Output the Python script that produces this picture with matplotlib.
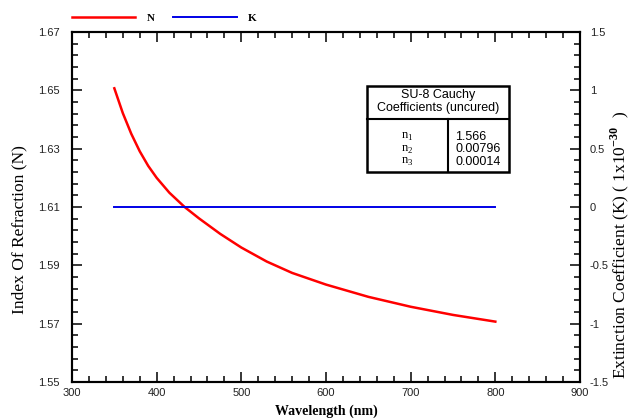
import numpy as np
import matplotlib as mpl
mpl.use('Agg')
mpl.rcParams.update({'font.family': 'Liberation Serif', 'font.size': 10,
                     'mathtext.fontset': 'custom',
                     'mathtext.rm': 'Liberation Serif',
                     'mathtext.bf': 'Liberation Serif:bold'})
from matplotlib import pyplot as plt
from matplotlib.lines import Line2D
from matplotlib.ticker import MultipleLocator

# values
wavelength = [350, 360, 370, 380, 390, 400, 415, 433, 450, 475, 500, 530,
              560, 600, 650, 700, 750, 800]
n_index = [1.6507, 1.6422, 1.6351, 1.6291, 1.6241, 1.6200, 1.6149, 1.6100,
           1.6061, 1.6008, 1.5961, 1.5913, 1.5874, 1.5834, 1.5792, 1.5758,
           1.5730, 1.5707]
k_wavelength = [350, 800]
k_value = [0.0, 0.0]

coef_names = ['n$_\\mathregular{1}$', 'n$_\\mathregular{2}$', 'n$_\\mathregular{3}$']
coef_values = ['1.566', '0.00796', '0.00014']

tick_font = {'family': 'Liberation Sans', 'size': 8}

fig = plt.figure(figsize=(6.34, 4.2), dpi=100)
ax = fig.add_axes([72/634, 1 - 382/420, 508/634, 350/420])
ax2 = ax.twinx()

lineN, = ax.plot(wavelength, n_index, color='#ff0000', lw=1.8)
lineK, = ax2.plot(k_wavelength, k_value, color='#0000e6', lw=1.4)

ax.set_xlim(300, 900)
ax.set_ylim(1.55, 1.67)
ax2.set_ylim(-1.5, 1.5)

ax.xaxis.set_major_locator(MultipleLocator(100))
ax.xaxis.set_minor_locator(MultipleLocator(20))
ax.yaxis.set_major_locator(MultipleLocator(0.02, offset=0.01))
ax.yaxis.set_minor_locator(MultipleLocator(0.004, offset=0.002))
ax2.yaxis.set_major_locator(MultipleLocator(0.5))
ax2.yaxis.set_minor_locator(MultipleLocator(0.1))
ax.yaxis.set_major_formatter(mpl.ticker.FormatStrFormatter('%.2f'))
ax2.yaxis.set_major_formatter(mpl.ticker.FuncFormatter(
    lambda v, p: '%g' % v if abs(v) > 1e-9 else '0'))

for a in (ax, ax2):
    for s in a.spines.values():
        s.set_linewidth(1.5)
ax.tick_params(axis='x', which='both', direction='in', top=True, bottom=True,
               pad=4, colors='black', labelcolor='#222222')
ax.tick_params(axis='y', which='both', direction='in', left=True, right=False,
               pad=9, labelcolor='#222222')
ax2.tick_params(axis='y', which='both', direction='in', right=True, left=False,
                pad=7, labelcolor='#222222')
for a in (ax, ax2):
    a.tick_params(which='major', length=7, width=1.1)
    a.tick_params(which='minor', length=4.5, width=1.1)
    for lab in a.get_xticklabels() + a.get_yticklabels():
        lab.set_fontfamily(tick_font['family'])
        lab.set_fontsize(tick_font['size'])

fig.text(326/634, 1 - 411/420, 'Wavelength (nm)', ha='center', va='center',
         fontsize=10, fontweight='bold')
fig.text(19/634, 1 - 230/420, 'Index Of Refraction (N)', rotation=90,
         ha='center', va='center', fontsize=12.5)
fig.text(620/634, 1 - 245/420,
         'Extinction Coefficient (K) ( 1x10$^{\\mathbf{-30}}$  )',
         rotation=90, ha='center', va='center', fontsize=12.5)

leg = ax2.legend([lineN, lineK], ['N', 'K'], loc='lower left',
                 bbox_to_anchor=(0.0, 1.025), ncol=2, frameon=False,
                 borderpad=0, borderaxespad=0, handlelength=5.7,
                 handletextpad=1.0, columnspacing=1.7,
                 prop={'family': 'Liberation Serif', 'weight': 'bold', 'size': 8})

# coefficient table
def px(x, y):
    return ((x - 72) / 508, (382 - y) / 350)

tl = px(367, 86)
br = px(509, 172)
hd = px(367, 119)
cd = px(448, 119)
ax2.add_patch(plt.Rectangle((tl[0], br[1]), br[0] - tl[0], tl[1] - br[1],
                            transform=ax2.transAxes, fill=True, fc='white',
                            ec='black', lw=1.8, zorder=5))
ax2.add_line(Line2D([tl[0], br[0]], [hd[1], hd[1]], transform=ax2.transAxes,
                    color='black', lw=1.5, zorder=6))
ax2.add_line(Line2D([cd[0], cd[0]], [hd[1], br[1]], transform=ax2.transAxes,
                    color='black', lw=1.5, zorder=6))
hx, hy = px(438, 95)
ax2.text(hx, hy, 'SU-8 Cauchy', transform=ax2.transAxes, ha='center',
         va='center', family='Liberation Sans', fontsize=9, zorder=7)
hx, hy = px(438, 108)
ax2.text(hx, hy, 'Coefficients (uncured)', transform=ax2.transAxes,
         ha='center', va='center', family='Liberation Sans', fontsize=9,
         zorder=7)
for i, (name, val) in enumerate(zip(coef_names, coef_values)):
    yy = 137 + i * 12.5
    x1, y1 = px(407.5, yy)
    x2, _ = px(455, yy)
    ax2.text(x1, y1, name, transform=ax2.transAxes, ha='center', va='center',
             family='Liberation Serif', fontsize=9, zorder=7)
    ax2.text(x2, y1, val, transform=ax2.transAxes, ha='left', va='center',
             family='Liberation Sans', fontsize=9, zorder=7)

fig.savefig('out.png', dpi=100)
